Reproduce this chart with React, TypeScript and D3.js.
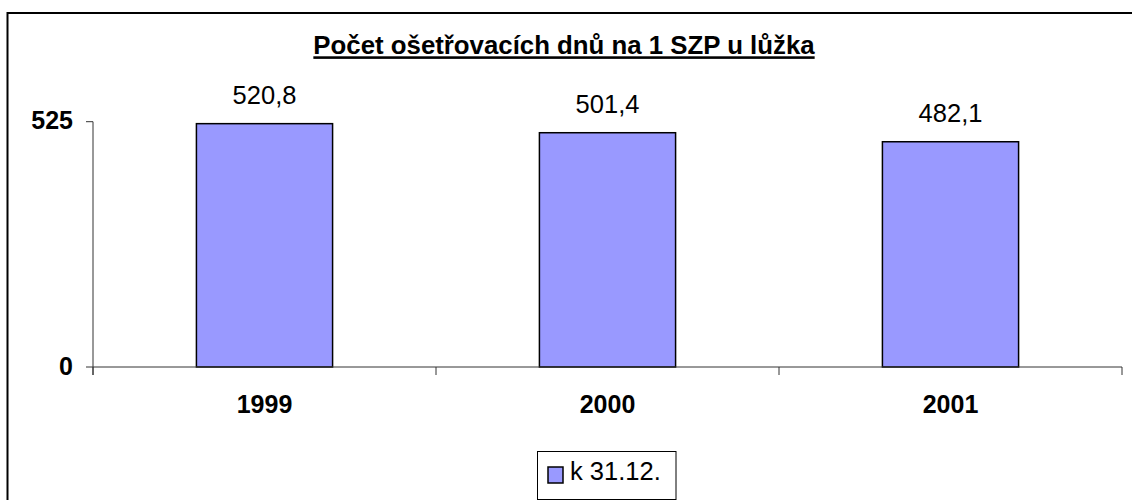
import React from "react";
import * as d3 from "d3";

const years = ["1999", "2000", "2001"];
const values = [520.8, 501.4, 482.1];
const yTicks = [0, 525];
const title = "Počet ošetřovacích dnů na 1 SZP u lůžka";
const seriesName = "k 31.12.";

const W = 1132;
const H = 500;
const font = "'Liberation Sans', Arial, sans-serif";

const plot = { left: 93, right: 1122, top: 121.7, bottom: 367 };

const App = () => {
  const x = d3
    .scaleBand()
    .domain(years)
    .range([plot.left, plot.right])
    .padding(0);

  const y = d3
    .scaleLinear()
    .domain([0, 525])
    .range([plot.bottom, plot.top]);

  const barW = x.bandwidth() * 0.397;
  const bounds = [...years.map((d) => x(d) as number), plot.right];

  return (
    <svg
      width={W}
      height={H}
      style={{ position: "absolute", left: 0, top: 0, background: "#fff" }}
    >
      {/* chart border, clipped on the right and bottom */}
      <rect x={7.5} y={13} width={1140} height={500} fill="none" stroke="#000" strokeWidth={2} />

      <text
        x={564}
        y={54.3}
        textAnchor="middle"
        fontFamily={font}
        fontWeight="bold"
        fontSize={25.8}
        textDecoration="underline"
      >
        {title}
      </text>

      {/* bars */}
      {values.map((v, i) => {
        const cx = (x(years[i]) as number) + x.bandwidth() / 2;
        return (
          <g key={years[i]}>
            <rect
              x={cx - barW / 2}
              y={y(v)}
              width={barW}
              height={y(0) - y(v)}
              fill="#9999FF"
              stroke="#000"
              strokeWidth={1.5}
            />
            <text
              x={cx}
              y={y(v) - 20}
              textAnchor="middle"
              fontFamily={font}
              fontSize={25.5}
            >
              {String(v).replace(".", ",")}
            </text>
            <text
              x={cx}
              y={y(0) + 45.7}
              textAnchor="middle"
              fontFamily={font}
              fontWeight="bold"
              fontSize={25}
            >
              {years[i]}
            </text>
          </g>
        );
      })}

      {/* axes */}
      <line x1={plot.left} x2={plot.left} y1={y(525)} y2={y(0) + 8} stroke="#333" strokeWidth={1} />
      <line x1={plot.left} x2={plot.right} y1={y(0)} y2={y(0)} stroke="#333" strokeWidth={1} />
      {bounds.map((b, i) => (
        <line key={i} x1={b} x2={b} y1={y(0)} y2={y(0) + 8} stroke="#333" strokeWidth={1} />
      ))}
      {yTicks.map((t) => (
        <g key={t}>
          <line x1={plot.left - 7} x2={plot.left} y1={y(t)} y2={y(t)} stroke="#333" strokeWidth={1} />
          <text
            x={73}
            y={y(t) + 7.5}
            textAnchor="end"
            fontFamily={font}
            fontWeight="bold"
            fontSize={25}
          >
            {t}
          </text>
        </g>
      ))}

      {/* legend */}
      <rect x={537.5} y={451.5} width={138.5} height={48} fill="#fff" stroke="#000" strokeWidth={1} />
      <rect x={548} y={467} width={15} height={16} fill="#9999FF" stroke="#000" strokeWidth={1.5} />
      <text x={570} y={480} fontFamily={font} fontSize={25.5}>
        {seriesName}
      </text>
    </svg>
  );
};

export default App;
